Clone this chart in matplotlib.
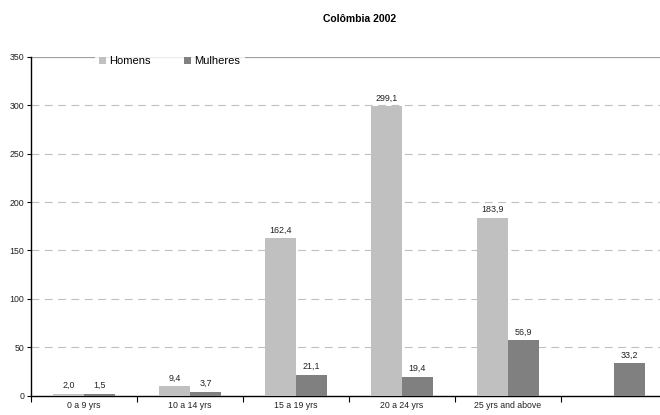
import matplotlib

matplotlib.use("Agg")

import matplotlib.pyplot as plt
import numpy as np

plt.rcParams["font.family"] = ["Liberation Sans", "DejaVu Sans"]

categories = ["0 a 9 yrs", "10 a 14 yrs", "15 a 19 yrs", "20 a 24 yrs",
              "25 yrs and above", ""]
homens = [2.0, 9.4, 162.4, 299.1, 183.9, np.nan]
mulheres = [1.5, 3.7, 21.1, 19.4, 56.9, 33.2]
yticks = [0, 50, 100, 150, 200, 250, 300, 350]


def fmt(v):
    return f"{v:.1f}".replace(".", ",")


fig = plt.figure(figsize=(6.6, 4.15), dpi=100)
ax = fig.add_axes([31 / 660, 1 - 395.5 / 415, 636 / 660, 338.5 / 415])

centers = np.arange(len(categories)) + 0.5
bw = 0.29
ax.bar(centers - bw / 2, homens, bw, color="#c0c0c0", label="Homens", zorder=3)
ax.bar(centers + bw / 2, mulheres, bw, color="#808080", label="Mulheres", zorder=3)

for x, v in zip(centers - bw / 2, homens):
    if not np.isnan(v):
        ax.text(x, v + 4, fmt(v), ha="center", va="bottom", fontsize=6.4, color="#222222")
for x, v in zip(centers + bw / 2, mulheres):
    ax.text(x, v + 4, fmt(v), ha="center", va="bottom", fontsize=6.4, color="#222222")

# dashed grid, top line drawn nearly solid
for y in yticks[1:-1]:
    ax.axhline(y, color="#c0c0c0", lw=0.8, ls=(0, (7, 5)), zorder=1)
ax.axhline(350, color="#a0a0a0", lw=0.9, zorder=1)

ax.set_xlim(0, len(categories))
ax.set_ylim(0, 350)
ax.set_yticks(yticks)
ax.set_yticklabels([str(t) for t in yticks], fontsize=6.3, color="#222222")
ax.set_xticks(np.arange(len(categories) + 1))
ax.set_xticklabels([])
ax.set_xticks(centers, minor=True)
ax.set_xticklabels(categories, minor=True, fontsize=6.3, color="#222222")
ax.tick_params(axis="x", which="major", length=4, width=0.8, direction="out")
ax.tick_params(axis="x", which="minor", length=0, pad=4)
ax.tick_params(axis="y", length=3, width=0.8, direction="out", pad=2)

for side in ("top", "right"):
    ax.spines[side].set_visible(False)
for side in ("left", "bottom"):
    ax.spines[side].set_linewidth(1.0)
    ax.spines[side].set_color("black")

leg = fig.legend(loc="center left", bbox_to_anchor=(95 / 660, 1 - 61 / 415),
                 ncol=2, frameon=True, fontsize=8, handlelength=0.6,
                 handleheight=0.6, handletextpad=0.3, columnspacing=3.0,
                 borderpad=0.4, borderaxespad=0)
leg.get_frame().set_facecolor("white")
leg.get_frame().set_edgecolor("none")
leg.get_frame().set_boxstyle("square", pad=0.0)

fig.text(360 / 660, 1 - 19 / 415, "Colômbia 2002", ha="center", va="center",
         fontsize=7.5, fontweight="bold")

fig.savefig("out.png", dpi=100)
